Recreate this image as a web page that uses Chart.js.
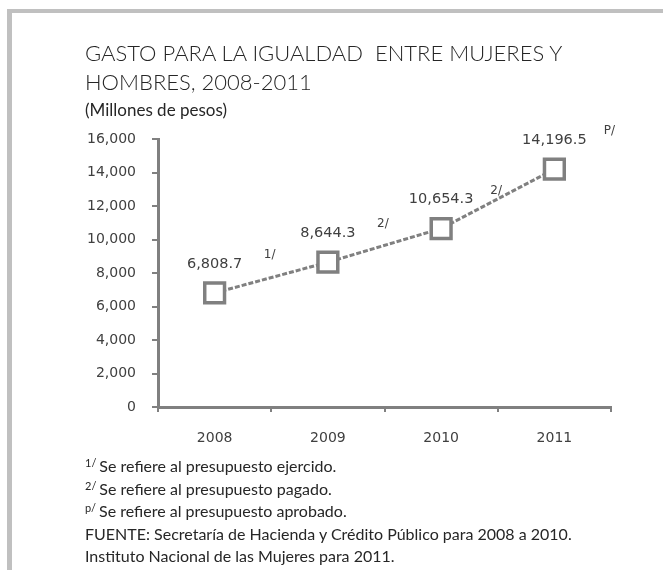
<!DOCTYPE html>
<html>
<head>
<meta charset="utf-8">
<script src="https://cdn.jsdelivr.net/npm/chart.js@4"></script>
<style>
  body { margin: 0; background: #fff; }
  #wrap { position: relative; width: 663px; height: 570px; overflow: hidden; }
  #frame {
    position: absolute; left: 7px; top: 9px; width: 700px; height: 600px;
    border-top: 4px solid #c0c0c0; border-left: 5px solid #c0c0c0;
  }
  canvas { position: absolute; left: 0; top: 0; }
  .txt {
    position: absolute; left: 85px; color: #262626; white-space: nowrap;
    font-family: Lato, "Open Sans", sans-serif;
  }
  #title { top: 38px; font-size: 22px; line-height: 29px; font-weight: 300; }
  #sub { top: 99px; font-size: 17px; line-height: 22px; }
  #notes { top: 455px; font-size: 16px; line-height: 22.5px; }
  sup { font-size: 11px; line-height: 0; vertical-align: 5px; margin-right: 3px; }
</style>
</head>
<body>
<div id="wrap">
  <div id="frame"></div>
  <canvas id="chart" width="663" height="570"></canvas>
  <div class="txt" id="title">GASTO PARA LA IGUALDAD&nbsp; ENTRE MUJERES Y<br>HOMBRES, 2008-2011</div>
  <div class="txt" id="sub">(Millones de pesos)</div>
  <div class="txt" id="notes">
    <sup>1/</sup>Se refiere al presupuesto ejercido.<br>
    <sup>2/</sup>Se refiere al presupuesto pagado.<br>
    <sup>p/</sup>Se refiere al presupuesto aprobado.<br>
    FUENTE: Secretaría de Hacienda y Crédito Público para 2008 a 2010.<br>
    Instituto Nacional de las Mujeres para 2011.
  </div>
</div>
<script>
const years = ["2008", "2009", "2010", "2011"];
const gasto = [6808.7, 8644.3, 10654.3, 14196.5];
const notas = ["1/", "2/", "2/", "P/"];

const gray = "#808080";
const textColor = "#404040";
const tickFont = { family: "DejaVu Sans", size: 14 };

// etiquetas de valor y notas sobre cada punto
const valueLabels = {
  id: "valueLabels",
  afterDatasetsDraw(chart) {
    const ctx = chart.ctx;
    const meta = chart.getDatasetMeta(0);
    ctx.save();
    ctx.fillStyle = textColor;
    ctx.textAlign = "center";
    ctx.textBaseline = "middle";
    meta.data.forEach((pt, i) => {
      ctx.font = "14.5px 'DejaVu Sans'";
      const txt = gasto[i].toLocaleString("en-US", { minimumFractionDigits: 1 });
      ctx.fillText(txt, pt.x, pt.y - 29);
      ctx.font = "12px 'DejaVu Sans'";
      ctx.fillText(notas[i], pt.x + 55, pt.y - 38);
    });
    ctx.restore();
  },
};

new Chart(document.getElementById("chart"), {
  type: "line",
  data: {
    labels: years,
    datasets: [
      {
        data: gasto,
        borderColor: gray,
        borderWidth: 3,
        borderDash: [5, 2],
        pointStyle: "rect",
        pointRadius: 14,
        pointBorderWidth: 3.5,
        pointBackgroundColor: "#fff",
        pointBorderColor: gray,
      },
    ],
  },
  options: {
    responsive: false,
    animation: false,
    layout: { autoPadding: false, padding: { left: 50, top: 139, right: 52, bottom: 113 } },
    plugins: { legend: { display: false }, tooltip: { enabled: false } },
    scales: {
      x: {
        offset: true,
        afterFit: (s) => { s.height = 50; },
        grid: { offset: true, drawOnChartArea: false, tickLength: 5, color: gray, lineWidth: 2 },
        border: { color: gray, width: 3 },
        ticks: { color: textColor, font: tickFont, padding: 18 },
      },
      y: {
        min: 0,
        max: 16000,
        afterFit: (s) => { s.width = 108; },
        grid: { drawOnChartArea: false, tickLength: 6, color: gray, lineWidth: 2 },
        border: { color: gray, width: 3 },
        ticks: {
          stepSize: 2000,
          color: textColor,
          font: tickFont,
          padding: 16,
          callback: (v) => v.toLocaleString("en-US"),
        },
      },
    },
  },
  plugins: [valueLabels],
});
</script>
</body>
</html>
